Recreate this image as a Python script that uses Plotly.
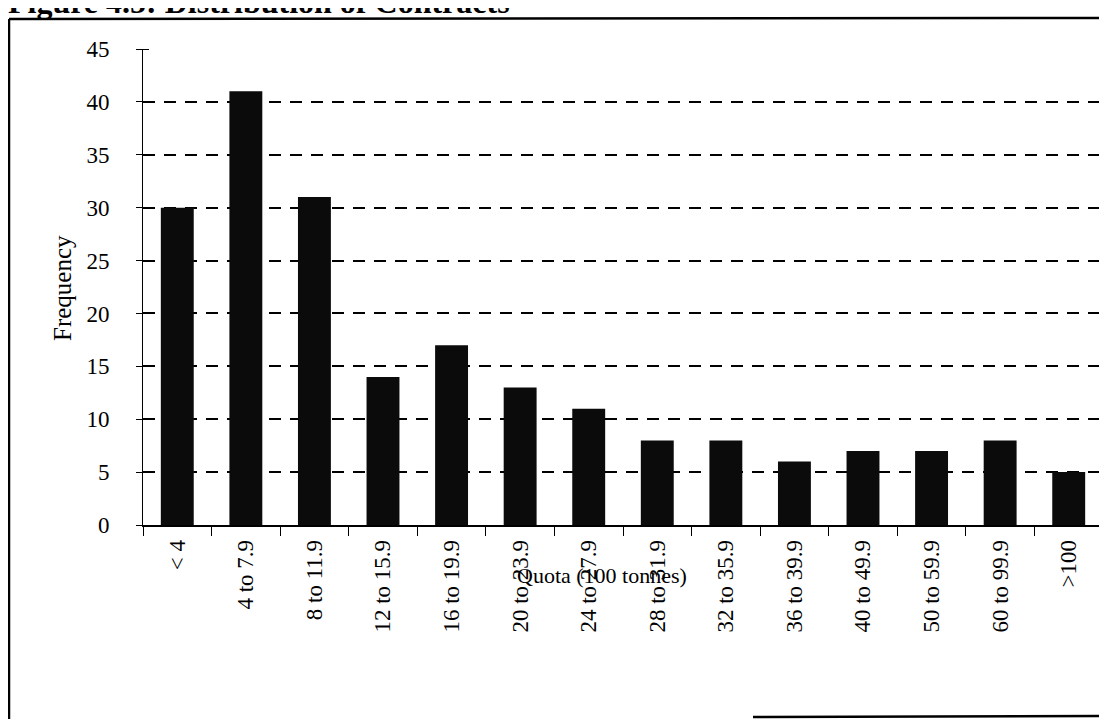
import plotly.graph_objects as go

# Figure 4.5 data
quota_bands = ["< 4", "4 to 7.9", "8 to 11.9", "12 to 15.9", "16 to 19.9",
               "20 to 23.9", "24 to 27.9", "28 to 31.9", "32 to 35.9",
               "36 to 39.9", "40 to 49.9", "50 to 59.9", "60 to 99.9", ">100"]
frequency = [30, 41, 31, 14, 17, 13, 11, 8, 8, 6, 7, 7, 8, 5]
y_ticks = [0, 5, 10, 15, 20, 25, 30, 35, 40, 45]

# the page body has an 8px margin, so the figure is shrunk by that much
OFF = 8
W, H = 1107 - OFF, 719 - OFF
L, R, T, B = 143 - OFF, 4, 49 - OFF, 194
ph = H - T - B
pw = W - L - R


def px(x):
    # page pixel -> paper x
    return (x - OFF - L) / pw


def py(y):
    # page pixel -> paper y
    return (H - B - (y - OFF)) / ph


serif = "Liberation Serif, Times New Roman, serif"

fig = go.Figure()
fig.add_trace(go.Bar(x=quota_bands, y=frequency, marker_color="#0b0b0b",
                     marker_line_width=0))

fig.update_layout(
    width=W, height=H,
    margin=dict(l=L, r=R, t=T, b=B),
    paper_bgcolor="white", plot_bgcolor="white",
    bargap=0.52,
    showlegend=False,
    font=dict(family=serif, color="black"),
)
fig.update_xaxes(
    type="category", range=[-0.5, 13.5],
    showline=True, linecolor="black", linewidth=1.5,
    ticks="outside", tickson="boundaries", ticklen=9, tickcolor="black",
    tickangle=-90, tickfont=dict(size=23, family=serif),
    ticklabelstandoff=4,
    showgrid=False,
)
fig.update_yaxes(
    range=[0, 45], tickvals=y_ticks,
    showline=True, linecolor="black", linewidth=1,
    ticks="outside", ticklen=6, tickcolor="black",
    minor=dict(dtick=5, ticks="inside", ticklen=6, tickcolor="black", showgrid=False),
    ticklabelstandoff=22, tickfont=dict(size=23, family=serif),
    showgrid=True, gridcolor="black", gridwidth=1.5, griddash="12px,9px",
    zeroline=False,
)

# axis titles
fig.add_annotation(text="Frequency", textangle=-90, showarrow=False,
                   xref="paper", yref="paper", x=px(62), y=py(288),
                   xanchor="center", yanchor="middle",
                   font=dict(size=25, family=serif))
fig.add_annotation(text="Quota (100 tonnes)", showarrow=False,
                   xref="paper", yref="paper", x=px(602), y=py(575),
                   xanchor="center", yanchor="middle",
                   font=dict(size=22, family=serif))

# figure caption, cut at the top of the scan
fig.add_annotation(text="<b>Figure 4.5: Distribution of Contracts</b>", showarrow=False,
                   xref="paper", yref="paper", x=px(6), y=py(22),
                   xanchor="left", yanchor="bottom",
                   font=dict(size=32, family=serif))

# page frame
frame = dict(color="black", width=2.5)
fig.add_shape(type="line", xref="paper", yref="paper",
              x0=px(9), x1=px(9), y0=py(19), y1=py(730), line=frame)
fig.add_shape(type="line", xref="paper", yref="paper",
              x0=px(9), x1=px(1115), y0=py(19), y1=py(18), line=frame)
fig.add_shape(type="line", xref="paper", yref="paper",
              x0=px(753), x1=px(1115), y0=py(717), y1=py(716), line=frame)

fig.write_html("out.html")
